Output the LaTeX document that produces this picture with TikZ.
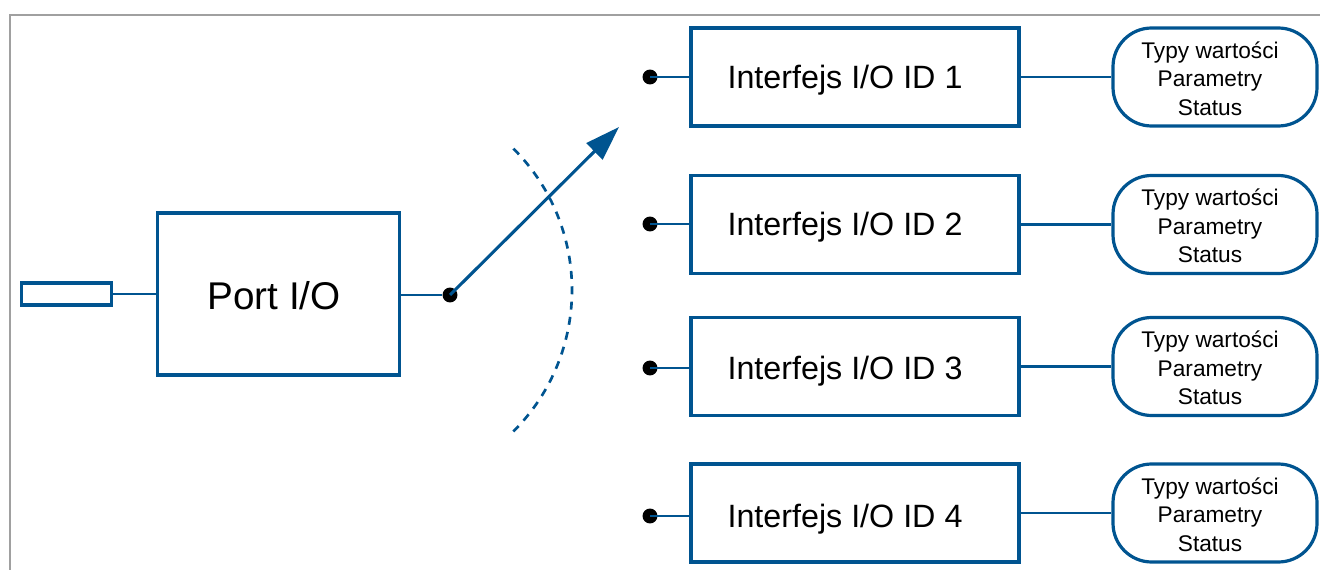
\documentclass[tikz,border=0pt]{standalone}
\usepackage{fontspec}
\setmainfont{Liberation Sans}
\usetikzlibrary{arrows.meta,calc}
\definecolor{ioblue}{RGB}{0,84,144}
\definecolor{frame}{RGB}{160,160,160}
\tikzset{
  wire/.style={draw=ioblue, line width=2.2pt},
  sqbox/.style={draw=ioblue, line width=2.4pt, inner sep=0pt, fill=white},
  pillbox/.style={draw=ioblue, line width=2.4pt, rounded corners=29pt, inner sep=0pt,
    minimum width=153pt, minimum height=73.5pt},
  pilltext/.style={align=center, inner sep=0pt, font=\fontsize{17}{21.4}\selectfont},
  ifbox/.style={sqbox, minimum width=246pt, minimum height=73.5pt},
  iftext/.style={font=\fontsize{24.2}{28}\selectfont, inner sep=0pt},
  pin/.style={circle, fill=black, inner sep=0pt, minimum size=11.2pt},
}
\begin{document}
\begin{tikzpicture}[x=0.75pt, y=-0.75pt]
\useasboundingbox (0,0) rectangle (1320,570);
% outer frame (top and left edges only)
\draw[frame, line width=1.6pt] (10,570) -- (10,15) -- (1320,15);

% connector plug and port block
\node[sqbox, minimum width=67pt, minimum height=16.5pt] (plug) at (66.5,294) {};
\node[sqbox, minimum width=182pt, minimum height=121.5pt] (port) at (278.5,294) {};
\node[font=\fontsize{29}{34}\selectfont, inner sep=0pt] (portlbl) at (274,295.5) {Port I/O};
\node[pin] (pivot) at (450,295) {};
\draw[wire] (plug.east) -- (port.west);
\draw[wire] (port.east |- pivot) -- (pivot);

% switch lever
\coordinate (tip) at (619,127);
\draw[wire, line width=2.3pt, -{Triangle[length=26pt, width=17pt]}] (pivot.center) -- (tip);

% dashed swing arc
\draw[draw=ioblue, line width=2pt, dash pattern=on 6pt off 5.5pt]
  (513.4,148.6) arc[start angle=45, end angle=-45, radius=150pt];

% interfaces
\foreach \i/\yb/\yd in {1/77/77, 2/224.5/224, 3/366.5/368, 4/513/516}{
  \node[ifbox] (if\i) at (855,\yb) {};
  \node[iftext] (ift\i) at (845,\yd+3) {Interfejs I/O ID \i};
  \node[pin] (dot\i) at (650,\yd) {};
  \draw[wire] (dot\i.center) -- (dot\i.center -| if\i.west);
  \node[pillbox] (info\i) at (1215,\yb) {};
  \node[pilltext] (infot\i) at (1210,\yb+1.5) {Typy wartości\\Parametry\\Status};
  \draw[wire] (if\i.east |- info\i.west) -- (info\i.west);
}
\end{tikzpicture}
\end{document}
